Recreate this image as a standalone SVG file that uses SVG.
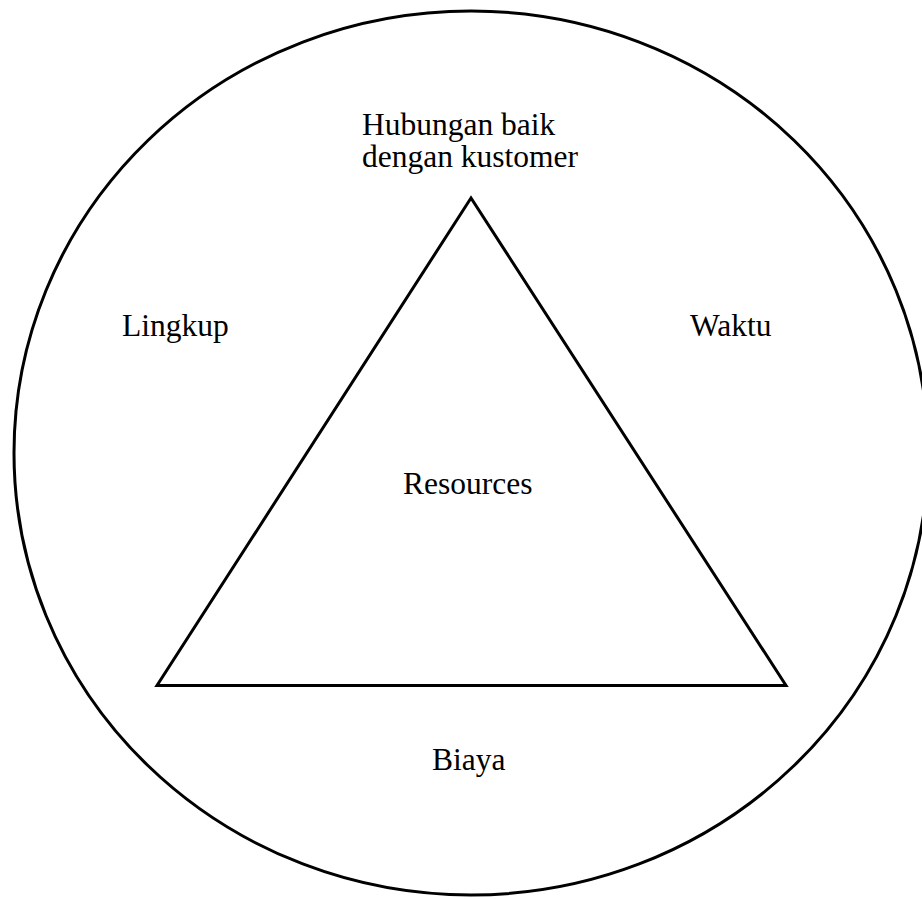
<svg xmlns="http://www.w3.org/2000/svg" width="922" height="899" viewBox="0 0 922 899">
<style>
.t{font-family:"Liberation Serif","Times New Roman",serif;font-size:31.5px;fill:#000}
.s{fill:none;stroke:#000;stroke-width:3}
</style>
<rect width="922" height="899" fill="#fff"/>
<g id="connectors">
<ellipse class="s" cx="471" cy="453" rx="457" ry="442"/>
<polygon class="s" points="471,198 157,685.5 786,685.5"/>
</g>
<g id="hubungan"><text class="t" x="362" y="135">Hubungan baik</text><text class="t" x="362" y="167">dengan kustomer</text></g>
<g id="lingkup"><text class="t" x="122" y="336">Lingkup</text></g>
<g id="waktu"><text class="t" x="690" y="336">Waktu</text></g>
<g id="resources"><text class="t" x="403" y="494">Resources</text></g>
<g id="biaya"><text class="t" x="432" y="770">Biaya</text></g>
</svg>
